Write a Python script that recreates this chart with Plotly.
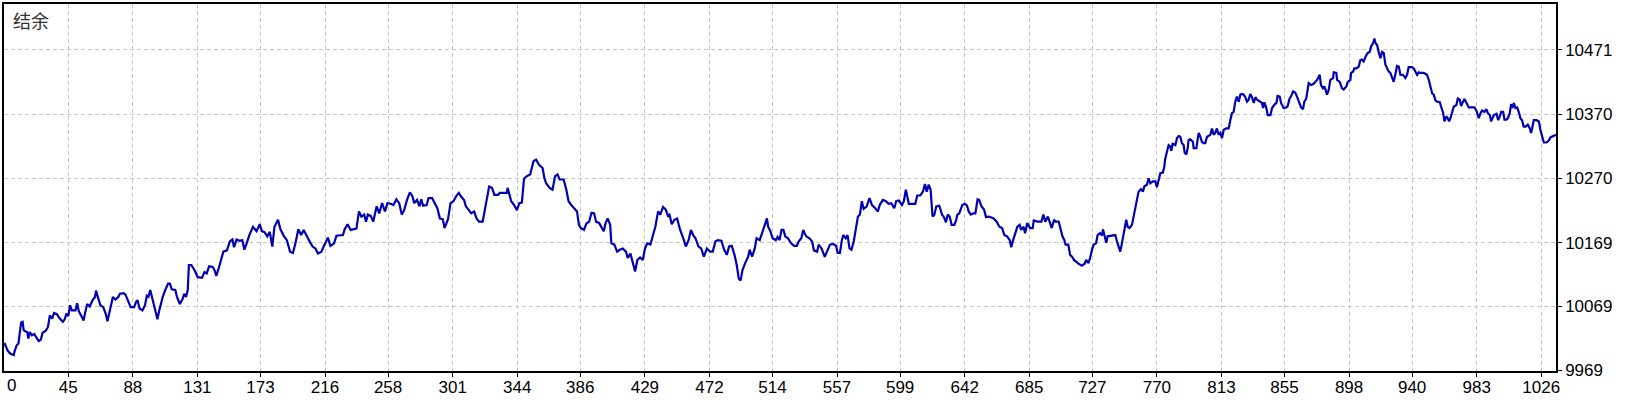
import plotly.graph_objects as go

# Deal number (x) and account balance (y)
deal = [
    2.5, 4.6, 6.5, 8.7, 9.4, 10.6, 11.8, 12.2, 12.9, 13.6, 14.6, 15.3, 16.5, 17.7, 18.4, 19.4, 20.8, 22.4, 23.6, 25.3,
    26.7, 27.9, 30.0, 31.5, 32.7, 34.3, 35.5, 37.4, 39.1, 41.4, 42.6, 43.8, 45.0, 46.2, 47.4, 49.8, 50.9, 52.1, 54.0, 55.2,
    56.4, 57.6, 59.3, 61.2, 62.8, 63.5, 64.7, 66.4, 68.3, 69.9, 71.1, 72.3, 73.5, 74.7, 76.4, 78.3, 79.4, 81.8, 83.0, 84.9,
    86.6, 88.9, 90.1, 91.1, 92.5, 94.4, 96.1, 97.3, 98.4, 99.6, 100.8, 102.5, 104.4, 105.6, 106.8, 107.9, 109.6, 111.5, 112.7, 113.9,
    116.3, 117.4, 119.3, 121.0, 122.2, 123.4, 124.6, 125.3, 127.0, 129.3, 131.2, 134.1, 135.7, 137.2, 138.8, 141.2, 142.4, 143.6, 145.2, 147.1,
    148.3, 150.7, 152.6, 154.3, 155.4, 157.1, 159.0, 160.9, 162.3, 163.8, 165.6, 168.0, 170.4, 172.5, 174.0, 175.6, 177.5, 179.2, 180.9, 182.3,
    184.7, 186.3, 188.7, 190.6, 192.7, 194.6, 196.3, 198.2, 200.1, 201.8, 203.6, 205.3, 207.7, 209.6, 211.3, 213.6, 215.1, 216.5, 217.9, 219.6,
    222.0, 223.6, 226.0, 227.9, 229.1, 231.0, 233.1, 235.0, 236.9, 238.6, 240.2, 242.1, 243.3, 244.5, 246.4, 248.1, 249.3, 250.4, 252.1, 254.0,
    255.9, 257.6, 259.9, 261.6, 263.5, 265.4, 267.1, 268.7, 270.6, 272.5, 274.2, 275.4, 277.3, 278.9, 280.1, 281.3, 283.7, 284.9, 287.3, 289.1,
    290.8, 292.5, 294.4, 295.6, 296.8, 297.9, 299.6, 301.5, 303.4, 305.1, 306.7, 308.6, 309.8, 311.5, 313.4, 315.3, 316.9, 318.6, 321.0, 322.4,
    324.1, 325.3, 327.2, 328.8, 331.2, 332.4, 334.8, 337.1, 337.6, 339.0, 340.0, 341.9, 343.8, 345.4, 347.1, 348.5, 350.2, 352.6, 353.8, 354.9,
    356.6, 358.5, 360.9, 362.1, 363.3, 365.6, 367.5, 369.2, 370.8, 372.3,
    373.1, 374.9, 376.7, 378.2, 380.0, 381.8, 383.8, 385.1, 386.3, 388.4, 390.1, 391.9, 393.5, 395.2, 396.5, 398.5, 400.3, 401.6, 402.9, 404.2,
    405.9, 406.7, 408.7, 410.5, 412.3, 414.3, 416.4, 417.6, 419.4, 420.7, 422.5, 424.0, 425.8, 427.6, 429.1, 430.6, 432.7, 434.2, 436.0, 437.8,
    439.3, 441.1, 442.9, 444.4, 445.4, 446.9, 448.7, 450.5, 452.5, 454.6, 456.3, 458.1, 459.7, 461.4, 462.7, 464.7, 466.5, 468.3, 470.3, 472.4,
    474.2, 476.0, 477.5, 480.0, 481.8, 483.6, 485.1, 486.9, 488.7, 490.2, 491.5, 492.8, 494.0, 495.8, 497.8, 498.8, 500.4, 502.2, 503.4, 505.5,
    507.3, 508.5, 510.3, 511.1, 512.6, 514.1, 516.2, 517.4, 518.7, 520.0, 521.3, 522.5, 524.3, 526.4, 528.4, 530.2, 531.5, 533.2, 534.5, 535.3,
    536.5, 538.6, 540.4, 541.6, 543.7, 544.7, 546.7, 548.8, 550.5, 552.3, 554.4, 556.4, 557.4, 558.9, 560.2, 561.2, 562.8, 564.0, 565.3, 566.6,
    568.1, 569.6, 570.9, 572.2, 573.5, 574.7, 576.8, 578.6, 580.3, 582.4, 584.2, 585.4, 587.5, 589.5, 591.3, 593.1, 595.1, 596.4, 598.2, 600.2,
    601.5, 602.8, 604.0, 604.8, 607.8, 609.1, 610.4, 612.4, 614.2, 615.5, 616.7, 618.0, 619.3, 620.6, 621.8, 623.1, 625.1, 626.9, 628.2, 629.5,
    630.7, 632.0, 633.3, 635.1, 636.3, 637.1, 638.4, 640.4, 642.2, 643.5, 644.7, 646.0, 647.8, 649.1, 650.6, 651.6, 653.2, 654.9, 656.2, 658.2,
    661.3, 663.3, 665.1, 666.9, 668.4, 670.2, 672.0, 673.0, 674.0, 675.3, 677.1, 678.6, 679.6, 681.2, 682.2, 683.7, 685.5, 687.3, 688.0, 690.6,
    693.1, 694.4, 695.7, 697.4, 699.0, 700.0, 701.5, 702.5, 704.6, 705.9, 707.1, 708.4, 709.2, 711.0, 712.2, 713.5, 714.8, 717.3, 719.9, 721.9,
    722.9, 724.4, 725.5, 727.0, 728.0, 729.5, 730.5, 732.1,
    733.4, 734.1, 735.0, 736.3, 737.2, 739.0, 740.7, 742.3, 743.4, 744.5, 745.6, 746.7, 747.8, 749.0, 749.6, 750.5, 751.8, 753.4, 754.5, 755.6,
    756.7, 757.8, 759.4, 760.7, 761.6, 763.4, 764.5, 765.6, 767.4, 768.9, 770.0, 771.2, 772.3, 774.0, 774.9, 775.6, 776.7, 777.8, 778.9, 779.6,
    780.5, 782.3, 783.4, 784.5, 785.6, 786.7, 787.8, 788.5, 789.6, 790.5, 791.1, 792.2, 794.0, 794.5, 796.3, 797.1, 797.8, 798.9, 800.0, 801.1,
    802.2, 803.4, 805.6, 806.7, 807.8, 808.9, 810.0, 811.1, 812.2, 813.4, 814.5, 816.2, 817.8, 818.9, 820.0, 821.1, 822.2, 823.3, 824.5, 825.6,
    826.7, 827.8, 828.9, 830.0, 831.1, 832.2, 833.3, 834.5, 835.6, 836.7, 838.9, 840.0, 840.7, 841.6, 842.9, 843.8, 845.6, 846.7, 848.2, 849.6,
    850.4, 851.8, 852.7, 854.4, 856.2, 857.1, 858.4, 859.3, 860.7, 862.2, 863.3, 864.4, 866.0, 867.3, 868.2, 869.5, 870.4, 871.1, 872.7, 874.4,
    875.5, 876.7, 878.4, 879.3, 880.6, 881.5, 882.4, 883.3, 884.4, 885.5, 887.3, 887.8, 889.5, 890.0, 891.8, 893.3, 894.4, 896.2, 897.1, 898.9,
    899.3, 900.6, 901.5, 902.9, 904.4, 905.5, 906.6, 907.7, 909.5, 910.4, 911.7, 912.6, 914.0, 914.9, 915.5, 916.6, 917.7, 918.9, 920.0, 921.1,
    922.2, 923.3, 924.4, 925.5, 926.6, 927.7, 928.8, 929.9, 931.1, 932.2, 933.9, 935.5, 936.6, 937.7, 939.9, 941.1, 942.2, 943.3, 944.4, 945.5,
    947.7, 949.9, 951.1, 952.2, 953.3, 954.4, 955.5, 956.6, 958.4, 959.3, 960.6, 961.5, 962.8, 963.7, 964.6, 965.5, 966.6, 967.7, 969.5, 970.4,
    971.7, 972.6, 973.9, 974.8, 976.2, 977.7, 979.3, 981.5, 982.8, 984.4, 985.5, 986.6, 988.1, 989.5, 990.4, 991.7, 992.6, 994.4, 996.2, 997.3,
    998.4, 999.3, 1000.6, 1001.5, 1002.8, 1003.7, 1005.0, 1005.9, 1006.8, 1007.7, 1008.8, 1009.9, 1011.0, 1012.1, 1013.2, 1014.3, 1015.5, 1017.0, 1018.4, 1019.2,
    1019.9, 1021.0, 1022.8, 1024.4, 1025.4, 1026.6, 1027.7, 1029.4, 1031.0, 1032.1, 1035.7,
]

balance = [
    10012, 10000, 9995, 9993, 10000, 10008, 10011, 10021, 10037, 10044, 10045, 10032, 10030, 10029, 10019, 10029, 10024, 10026, 10021, 10015,
    10017, 10028, 10031, 10037, 10055, 10050, 10059, 10057, 10051, 10045, 10049, 10058, 10054, 10071, 10063, 10063, 10074, 10061, 10053, 10047,
    10061, 10073, 10069, 10079, 10084, 10094, 10084, 10071, 10068, 10058, 10046, 10058, 10074, 10084, 10080, 10084, 10089, 10090, 10088, 10076,
    10068, 10068, 10076, 10079, 10066, 10063, 10071, 10086, 10084, 10095, 10084, 10066, 10049, 10063, 10074, 10084, 10095, 10105, 10105, 10096,
    10095, 10084, 10073, 10080, 10089, 10084, 10095, 10134, 10134, 10125, 10115, 10114, 10123, 10121, 10132, 10131, 10126, 10117, 10129, 10144,
    10155, 10157, 10171, 10174, 10162, 10174, 10172, 10173, 10158, 10168, 10181, 10194, 10187, 10198, 10187, 10186, 10179, 10186, 10163, 10194,
    10205, 10190, 10179, 10173, 10155, 10153, 10168, 10190, 10181, 10189, 10180, 10173, 10163, 10160, 10152, 10155, 10163, 10171, 10177, 10164,
    10168, 10180, 10181, 10181, 10190, 10198, 10189, 10190, 10191, 10218, 10210, 10213, 10202, 10213, 10211, 10202, 10213, 10226, 10215, 10231,
    10218, 10231, 10230, 10228, 10237, 10231, 10213, 10220, 10236, 10248, 10242, 10231, 10236, 10226, 10237, 10227, 10228, 10239, 10239, 10231,
    10223, 10207, 10206, 10192, 10200, 10206, 10231, 10234, 10242, 10247, 10241, 10236, 10226, 10220, 10215, 10218, 10207, 10202, 10202, 10220,
    10241, 10257, 10255, 10244, 10244, 10247, 10247, 10247, 10255, 10241, 10234, 10228, 10220, 10231, 10232, 10269, 10273, 10276, 10289, 10297,
    10299, 10291, 10286, 10270, 10262, 10255, 10252, 10273, 10276, 10268,
    10268, 10268, 10252, 10234, 10228, 10223, 10218, 10197, 10192, 10189, 10199, 10202, 10216, 10215, 10202, 10200, 10193, 10187, 10200, 10207,
    10197, 10168, 10166, 10155, 10158, 10160, 10155, 10145, 10152, 10140, 10124, 10142, 10146, 10142, 10160, 10168, 10166, 10179, 10194, 10218,
    10213, 10225, 10221, 10211, 10213, 10198, 10205, 10207, 10189, 10176, 10163, 10173, 10189, 10180, 10176, 10163, 10160, 10147, 10160, 10155,
    10155, 10171, 10173, 10172, 10158, 10150, 10163, 10164, 10150, 10134, 10113, 10110, 10126, 10137, 10147, 10158, 10147, 10160, 10176, 10173,
    10187, 10197, 10207, 10194, 10187, 10176, 10173, 10178, 10173, 10189, 10189, 10179, 10176, 10168, 10164, 10164, 10171, 10176, 10189, 10184,
    10179, 10176, 10171, 10157, 10155, 10166, 10160, 10147, 10155, 10166, 10167, 10164, 10153, 10153, 10173, 10181, 10176, 10181, 10160, 10158,
    10171, 10189, 10210, 10213, 10234, 10222, 10226, 10239, 10228, 10223, 10218, 10228, 10236, 10234, 10230, 10231, 10223, 10234, 10235, 10228,
    10234, 10252, 10239, 10230, 10230, 10230, 10243, 10243, 10249, 10261, 10249, 10260, 10252, 10210, 10213, 10226, 10227, 10213, 10209, 10201,
    10213, 10210, 10197, 10197, 10204, 10213, 10215, 10228, 10230, 10227, 10218, 10213, 10215, 10215, 10237, 10236, 10226, 10221, 10209, 10210,
    10207, 10202, 10194, 10192, 10181, 10179, 10173, 10162, 10171, 10181, 10194, 10197, 10189, 10194, 10184, 10200, 10192, 10192, 10204, 10202,
    10202, 10213, 10202, 10210, 10200, 10192, 10205, 10202, 10202, 10189, 10179, 10173, 10166, 10166, 10150, 10147, 10142, 10137, 10133, 10136,
    10142, 10137, 10145, 10160, 10166, 10168, 10181, 10184,
    10180, 10190, 10179, 10169, 10179, 10180, 10180, 10181, 10171, 10163, 10155, 10168, 10181, 10200, 10205, 10194, 10192, 10197, 10210, 10223,
    10236, 10249, 10253, 10249, 10257, 10260, 10270, 10262, 10265, 10265, 10256, 10267, 10278, 10279, 10288, 10301, 10312, 10322, 10320, 10313,
    10324, 10322, 10333, 10336, 10335, 10325, 10322, 10310, 10307, 10317, 10330, 10331, 10327, 10317, 10317, 10330, 10341, 10335, 10327, 10325,
    10325, 10335, 10338, 10348, 10338, 10341, 10348, 10338, 10341, 10333, 10346, 10348, 10348, 10361, 10372, 10374, 10390, 10398, 10390, 10401,
    10402, 10401, 10397, 10390, 10393, 10402, 10397, 10388, 10397, 10393, 10390, 10388, 10380, 10389, 10380, 10369, 10369, 10380, 10385, 10388,
    10399, 10398, 10388, 10380, 10381, 10383, 10395, 10398, 10406, 10404, 10398, 10390, 10381, 10378, 10390, 10395, 10411, 10419, 10416, 10418,
    10421, 10424, 10432, 10416, 10411, 10414, 10408, 10401, 10408, 10424, 10427, 10436, 10435, 10424, 10421, 10411, 10409, 10414, 10421, 10424,
    10435, 10437, 10442, 10442, 10445, 10455, 10456, 10453, 10463, 10466, 10468, 10476, 10482, 10489, 10482, 10479, 10468, 10458, 10468, 10466,
    10448, 10442, 10437, 10435, 10427, 10421, 10432, 10446, 10445, 10432, 10432, 10427, 10432, 10444, 10444, 10442, 10437, 10432, 10436, 10435,
    10435, 10432, 10424, 10411, 10403, 10401, 10392, 10390, 10389, 10382, 10373, 10359, 10367, 10364, 10359, 10364, 10374, 10382, 10385, 10395,
    10393, 10383, 10390, 10394, 10388, 10381, 10381, 10381, 10376, 10364, 10372, 10376, 10374, 10378, 10372, 10369, 10359, 10369, 10371, 10361,
    10367, 10374, 10374, 10362, 10362, 10364, 10372, 10386, 10380, 10388, 10380, 10381, 10374, 10364, 10361, 10351, 10351, 10354, 10348, 10341,
    10348, 10361, 10361, 10359, 10346, 10335, 10326, 10326, 10329, 10334, 10338,
]

x_tick_vals = [45, 88, 131, 173, 216, 258, 301, 344, 386, 429, 472, 514, 557, 599,
               642, 685, 727, 770, 813, 855, 898, 940, 983, 1026]
y_tick_vals = [9969, 10069, 10169, 10270, 10370, 10471]
first_x_label = "0"
series_label = "结余"

x_range = [2.2, 1035.8]
y_range = [9968, 10543]

tick_font = dict(family="Liberation Sans, Arial, sans-serif", size=17, color="#000000")
grid_color = "#c8c8c8"

fig = go.Figure(
    go.Scatter(
        x=deal, y=balance, mode="lines",
        line=dict(color="#0000b4", width=2.2),
        hoverinfo="skip", name=series_label,
    )
)

fig.update_layout(
    width=1640, height=400,
    margin=dict(l=4, r=84, t=4, b=29, autoexpand=False),
    paper_bgcolor="white", plot_bgcolor="white",
    showlegend=False,
)

fig.update_xaxes(
    range=x_range, tickvals=x_tick_vals, ticktext=[str(v) for v in x_tick_vals],
    showgrid=True, gridcolor=grid_color, gridwidth=1, griddash="4px,3px",
    showline=True, linecolor="black", linewidth=1.5, mirror=True,
    ticks="outside", ticklen=4, tickcolor="black", tickwidth=1,
    ticklabelstandoff=-4,
    tickfont=tick_font, zeroline=False, automargin=False,
)
fig.update_yaxes(
    side="right", range=y_range, tickvals=y_tick_vals, ticktext=[str(v) for v in y_tick_vals],
    showgrid=True, gridcolor=grid_color, gridwidth=1, griddash="4px,3px",
    showline=True, linecolor="black", linewidth=1.5, mirror=True,
    ticks="outside", ticklen=4, tickcolor="black", tickwidth=1,
    tickfont=tick_font, zeroline=False, automargin=False,
)

fig.add_annotation(
    text=series_label, xref="paper", yref="paper", x=0, y=1,
    xanchor="left", yanchor="top", xshift=7, yshift=-1, showarrow=False,
    font=dict(family="Noto Sans CJK SC", size=18, color="#333333"),
)
fig.add_annotation(
    text=first_x_label, xref="paper", yref="paper", x=0, y=0,
    xanchor="left", yanchor="top", xshift=1, yshift=-3, showarrow=False,
    font=tick_font,
)

fig.write_html(
    "out.html",
    config={"displayModeBar": False},
    post_script="document.body.style.margin='0';document.body.style.overflow='hidden';",
)
